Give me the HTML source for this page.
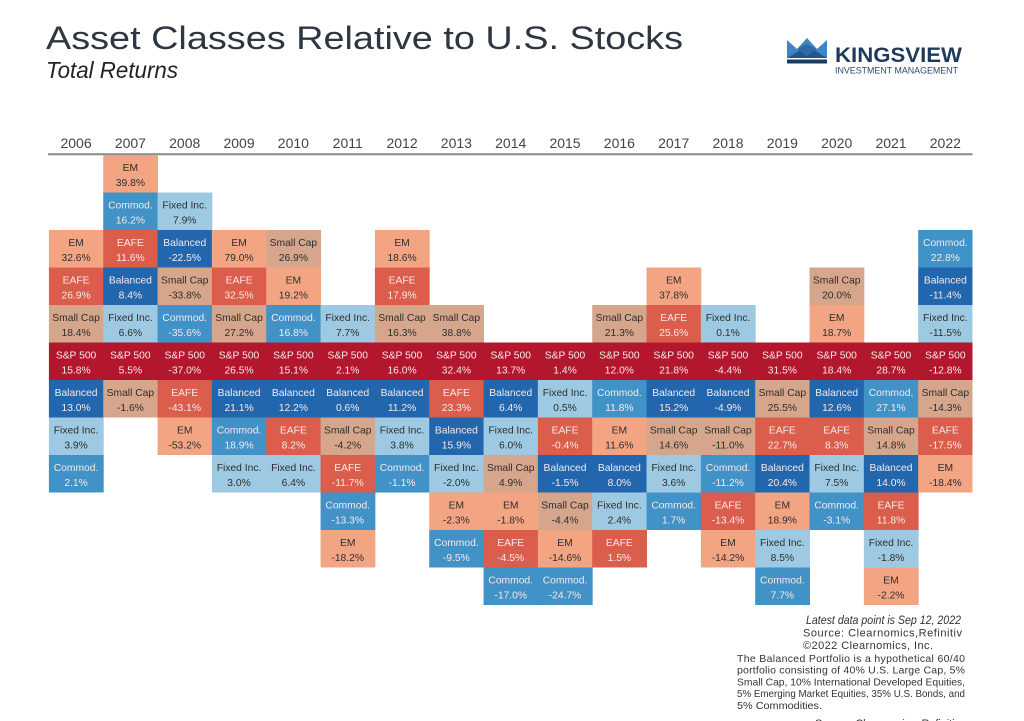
<!DOCTYPE html>
<html>
<head>
<meta charset="utf-8">
<style>
html,body{margin:0;padding:0;background:#fff;}
svg{display:block;}
.sp{fill:#b3172d}.eafe{fill:#da5e4b}.em{fill:#f3a583}.sc{fill:#d5a68b}.fi{fill:#9dcae2}.com{fill:#4192c6}.bal{fill:#2267ad}
text{font-family:"Liberation Sans",sans-serif;}
.c text{font-size:10.3px;text-anchor:middle;}
.d{fill:#2e2e2e}.l{fill:#f6e9ea}
.yr{font-size:14px;fill:#444;text-anchor:middle;}
</style>
</head>
<body>
<svg width="1024" height="721" viewBox="0 0 1024 721" xmlns="http://www.w3.org/2000/svg">
<rect width="1024" height="721" fill="#fff"/>
<!-- Title -->
<text x="46" y="49" font-size="32" fill="#2e3642" textLength="637" lengthAdjust="spacingAndGlyphs">Asset Classes Relative to U.S. Stocks</text>
<text x="46" y="78" font-size="23" font-style="italic" fill="#222" textLength="132" lengthAdjust="spacingAndGlyphs">Total Returns</text>
<!-- Logo -->
<g>
<polygon points="787,40 797,49 807,38 817,49 827,40 827,58 787,58" fill="#3d85c4"/>
<polygon points="787,58 807,46 827,58" fill="#24568c"/>
<polygon points="797,49 807,56 817,49 807,44" fill="#2f6aa6"/>
<rect x="787" y="59.5" width="40" height="4" fill="#1d3b5e"/>
<text x="835" y="62" font-size="21" font-weight="bold" fill="#1f3a5c" textLength="127" lengthAdjust="spacingAndGlyphs">KINGSVIEW</text>
<text x="835" y="73.5" font-size="9.3" fill="#2a4a70" textLength="123" lengthAdjust="spacingAndGlyphs">INVESTMENT MANAGEMENT</text>
</g>
<!-- Years -->
<g class="yr">
<text class="yr" x="76.07" y="148">2006</text>
<text class="yr" x="130.4" y="148">2007</text>
<text class="yr" x="184.73" y="148">2008</text>
<text class="yr" x="239.06" y="148">2009</text>
<text class="yr" x="293.39" y="148">2010</text>
<text class="yr" x="347.72" y="148">2011</text>
<text class="yr" x="402.05" y="148">2012</text>
<text class="yr" x="456.38" y="148">2013</text>
<text class="yr" x="510.71" y="148">2014</text>
<text class="yr" x="565.04" y="148">2015</text>
<text class="yr" x="619.37" y="148">2016</text>
<text class="yr" x="673.7" y="148">2017</text>
<text class="yr" x="728.03" y="148">2018</text>
<text class="yr" x="782.36" y="148">2019</text>
<text class="yr" x="836.69" y="148">2020</text>
<text class="yr" x="891.02" y="148">2021</text>
<text class="yr" x="945.35" y="148">2022</text>
</g>
<line x1="48" y1="154.3" x2="972.5" y2="154.3" stroke="#8a8a8a" stroke-width="2"/>

<g class="c">
<!-- 2006 -->
<g transform="translate(48.9,0)">
<g transform="translate(0,230)"><rect class="em" width="54.8" height="38"/><text x="27.17" y="16" class="d">EM</text><text x="27.17" y="31" class="d">32.6%</text></g>
<g transform="translate(0,267.5)"><rect class="eafe" width="54.8" height="38"/><text x="27.17" y="16" class="l">EAFE</text><text x="27.17" y="31" class="l">26.9%</text></g>
<g transform="translate(0,305)"><rect class="sc" width="54.8" height="38"/><text x="27.17" y="16" class="d">Small Cap</text><text x="27.17" y="31" class="d">18.4%</text></g>
<g transform="translate(0,342.5)"><rect class="sp" width="54.8" height="38"/><text x="27.17" y="16" class="l">S&amp;P 500</text><text x="27.17" y="31" class="l">15.8%</text></g>
<g transform="translate(0,380)"><rect class="bal" width="54.8" height="38"/><text x="27.17" y="16" class="l">Balanced</text><text x="27.17" y="31" class="l">13.0%</text></g>
<g transform="translate(0,417.5)"><rect class="fi" width="54.8" height="38"/><text x="27.17" y="16" class="d">Fixed Inc.</text><text x="27.17" y="31" class="d">3.9%</text></g>
<g transform="translate(0,455)"><rect class="com" width="54.8" height="37.5"/><text x="27.17" y="16" class="l">Commod.</text><text x="27.17" y="31" class="l">2.1%</text></g>
</g>
<!-- 2007 -->
<g transform="translate(103.23,0)">
<g transform="translate(0,155)"><rect class="em" width="54.8" height="38"/><text x="27.17" y="16" class="d">EM</text><text x="27.17" y="31" class="d">39.8%</text></g>
<g transform="translate(0,192.5)"><rect class="com" width="54.8" height="38"/><text x="27.17" y="16" class="l">Commod.</text><text x="27.17" y="31" class="l">16.2%</text></g>
<g transform="translate(0,230)"><rect class="eafe" width="54.8" height="38"/><text x="27.17" y="16" class="l">EAFE</text><text x="27.17" y="31" class="l">11.6%</text></g>
<g transform="translate(0,267.5)"><rect class="bal" width="54.8" height="38"/><text x="27.17" y="16" class="l">Balanced</text><text x="27.17" y="31" class="l">8.4%</text></g>
<g transform="translate(0,305)"><rect class="fi" width="54.8" height="38"/><text x="27.17" y="16" class="d">Fixed Inc.</text><text x="27.17" y="31" class="d">6.6%</text></g>
<g transform="translate(0,342.5)"><rect class="sp" width="54.8" height="38"/><text x="27.17" y="16" class="l">S&amp;P 500</text><text x="27.17" y="31" class="l">5.5%</text></g>
<g transform="translate(0,380)"><rect class="sc" width="54.8" height="37.5"/><text x="27.17" y="16" class="d">Small Cap</text><text x="27.17" y="31" class="d">-1.6%</text></g>
</g>
<!-- 2008 -->
<g transform="translate(157.56,0)">
<g transform="translate(0,192.5)"><rect class="fi" width="54.8" height="38"/><text x="27.17" y="16" class="d">Fixed Inc.</text><text x="27.17" y="31" class="d">7.9%</text></g>
<g transform="translate(0,230)"><rect class="bal" width="54.8" height="38"/><text x="27.17" y="16" class="l">Balanced</text><text x="27.17" y="31" class="l">-22.5%</text></g>
<g transform="translate(0,267.5)"><rect class="sc" width="54.8" height="38"/><text x="27.17" y="16" class="d">Small Cap</text><text x="27.17" y="31" class="d">-33.8%</text></g>
<g transform="translate(0,305)"><rect class="com" width="54.8" height="38"/><text x="27.17" y="16" class="l">Commod.</text><text x="27.17" y="31" class="l">-35.6%</text></g>
<g transform="translate(0,342.5)"><rect class="sp" width="54.8" height="38"/><text x="27.17" y="16" class="l">S&amp;P 500</text><text x="27.17" y="31" class="l">-37.0%</text></g>
<g transform="translate(0,380)"><rect class="eafe" width="54.8" height="38"/><text x="27.17" y="16" class="l">EAFE</text><text x="27.17" y="31" class="l">-43.1%</text></g>
<g transform="translate(0,417.5)"><rect class="em" width="54.8" height="37.5"/><text x="27.17" y="16" class="d">EM</text><text x="27.17" y="31" class="d">-53.2%</text></g>
</g>
<!-- 2009 -->
<g transform="translate(211.89,0)">
<g transform="translate(0,230)"><rect class="em" width="54.8" height="38"/><text x="27.17" y="16" class="d">EM</text><text x="27.17" y="31" class="d">79.0%</text></g>
<g transform="translate(0,267.5)"><rect class="eafe" width="54.8" height="38"/><text x="27.17" y="16" class="l">EAFE</text><text x="27.17" y="31" class="l">32.5%</text></g>
<g transform="translate(0,305)"><rect class="sc" width="54.8" height="38"/><text x="27.17" y="16" class="d">Small Cap</text><text x="27.17" y="31" class="d">27.2%</text></g>
<g transform="translate(0,342.5)"><rect class="sp" width="54.8" height="38"/><text x="27.17" y="16" class="l">S&amp;P 500</text><text x="27.17" y="31" class="l">26.5%</text></g>
<g transform="translate(0,380)"><rect class="bal" width="54.8" height="38"/><text x="27.17" y="16" class="l">Balanced</text><text x="27.17" y="31" class="l">21.1%</text></g>
<g transform="translate(0,417.5)"><rect class="com" width="54.8" height="38"/><text x="27.17" y="16" class="l">Commod.</text><text x="27.17" y="31" class="l">18.9%</text></g>
<g transform="translate(0,455)"><rect class="fi" width="54.8" height="37.5"/><text x="27.17" y="16" class="d">Fixed Inc.</text><text x="27.17" y="31" class="d">3.0%</text></g>
</g>
<!-- 2010 -->
<g transform="translate(266.22,0)">
<g transform="translate(0,230)"><rect class="sc" width="54.8" height="38"/><text x="27.17" y="16" class="d">Small Cap</text><text x="27.17" y="31" class="d">26.9%</text></g>
<g transform="translate(0,267.5)"><rect class="em" width="54.8" height="38"/><text x="27.17" y="16" class="d">EM</text><text x="27.17" y="31" class="d">19.2%</text></g>
<g transform="translate(0,305)"><rect class="com" width="54.8" height="38"/><text x="27.17" y="16" class="l">Commod.</text><text x="27.17" y="31" class="l">16.8%</text></g>
<g transform="translate(0,342.5)"><rect class="sp" width="54.8" height="38"/><text x="27.17" y="16" class="l">S&amp;P 500</text><text x="27.17" y="31" class="l">15.1%</text></g>
<g transform="translate(0,380)"><rect class="bal" width="54.8" height="38"/><text x="27.17" y="16" class="l">Balanced</text><text x="27.17" y="31" class="l">12.2%</text></g>
<g transform="translate(0,417.5)"><rect class="eafe" width="54.8" height="38"/><text x="27.17" y="16" class="l">EAFE</text><text x="27.17" y="31" class="l">8.2%</text></g>
<g transform="translate(0,455)"><rect class="fi" width="54.8" height="37.5"/><text x="27.17" y="16" class="d">Fixed Inc.</text><text x="27.17" y="31" class="d">6.4%</text></g>
</g>
<!-- 2011 -->
<g transform="translate(320.55,0)">
<g transform="translate(0,305)"><rect class="fi" width="54.8" height="38"/><text x="27.17" y="16" class="d">Fixed Inc.</text><text x="27.17" y="31" class="d">7.7%</text></g>
<g transform="translate(0,342.5)"><rect class="sp" width="54.8" height="38"/><text x="27.17" y="16" class="l">S&amp;P 500</text><text x="27.17" y="31" class="l">2.1%</text></g>
<g transform="translate(0,380)"><rect class="bal" width="54.8" height="38"/><text x="27.17" y="16" class="l">Balanced</text><text x="27.17" y="31" class="l">0.6%</text></g>
<g transform="translate(0,417.5)"><rect class="sc" width="54.8" height="38"/><text x="27.17" y="16" class="d">Small Cap</text><text x="27.17" y="31" class="d">-4.2%</text></g>
<g transform="translate(0,455)"><rect class="eafe" width="54.8" height="38"/><text x="27.17" y="16" class="l">EAFE</text><text x="27.17" y="31" class="l">-11.7%</text></g>
<g transform="translate(0,492.5)"><rect class="com" width="54.8" height="38"/><text x="27.17" y="16" class="l">Commod.</text><text x="27.17" y="31" class="l">-13.3%</text></g>
<g transform="translate(0,530)"><rect class="em" width="54.8" height="37.5"/><text x="27.17" y="16" class="d">EM</text><text x="27.17" y="31" class="d">-18.2%</text></g>
</g>
<!-- 2012 -->
<g transform="translate(374.88,0)">
<g transform="translate(0,230)"><rect class="em" width="54.8" height="38"/><text x="27.17" y="16" class="d">EM</text><text x="27.17" y="31" class="d">18.6%</text></g>
<g transform="translate(0,267.5)"><rect class="eafe" width="54.8" height="38"/><text x="27.17" y="16" class="l">EAFE</text><text x="27.17" y="31" class="l">17.9%</text></g>
<g transform="translate(0,305)"><rect class="sc" width="54.8" height="38"/><text x="27.17" y="16" class="d">Small Cap</text><text x="27.17" y="31" class="d">16.3%</text></g>
<g transform="translate(0,342.5)"><rect class="sp" width="54.8" height="38"/><text x="27.17" y="16" class="l">S&amp;P 500</text><text x="27.17" y="31" class="l">16.0%</text></g>
<g transform="translate(0,380)"><rect class="bal" width="54.8" height="38"/><text x="27.17" y="16" class="l">Balanced</text><text x="27.17" y="31" class="l">11.2%</text></g>
<g transform="translate(0,417.5)"><rect class="fi" width="54.8" height="38"/><text x="27.17" y="16" class="d">Fixed Inc.</text><text x="27.17" y="31" class="d">3.8%</text></g>
<g transform="translate(0,455)"><rect class="com" width="54.8" height="37.5"/><text x="27.17" y="16" class="l">Commod.</text><text x="27.17" y="31" class="l">-1.1%</text></g>
</g>
<!-- 2013 -->
<g transform="translate(429.21,0)">
<g transform="translate(0,305)"><rect class="sc" width="54.8" height="38"/><text x="27.17" y="16" class="d">Small Cap</text><text x="27.17" y="31" class="d">38.8%</text></g>
<g transform="translate(0,342.5)"><rect class="sp" width="54.8" height="38"/><text x="27.17" y="16" class="l">S&amp;P 500</text><text x="27.17" y="31" class="l">32.4%</text></g>
<g transform="translate(0,380)"><rect class="eafe" width="54.8" height="38"/><text x="27.17" y="16" class="l">EAFE</text><text x="27.17" y="31" class="l">23.3%</text></g>
<g transform="translate(0,417.5)"><rect class="bal" width="54.8" height="38"/><text x="27.17" y="16" class="l">Balanced</text><text x="27.17" y="31" class="l">15.9%</text></g>
<g transform="translate(0,455)"><rect class="fi" width="54.8" height="38"/><text x="27.17" y="16" class="d">Fixed Inc.</text><text x="27.17" y="31" class="d">-2.0%</text></g>
<g transform="translate(0,492.5)"><rect class="em" width="54.8" height="38"/><text x="27.17" y="16" class="d">EM</text><text x="27.17" y="31" class="d">-2.3%</text></g>
<g transform="translate(0,530)"><rect class="com" width="54.8" height="37.5"/><text x="27.17" y="16" class="l">Commod.</text><text x="27.17" y="31" class="l">-9.5%</text></g>
</g>
<!-- 2014 -->
<g transform="translate(483.54,0)">
<g transform="translate(0,342.5)"><rect class="sp" width="54.8" height="38"/><text x="27.17" y="16" class="l">S&amp;P 500</text><text x="27.17" y="31" class="l">13.7%</text></g>
<g transform="translate(0,380)"><rect class="bal" width="54.8" height="38"/><text x="27.17" y="16" class="l">Balanced</text><text x="27.17" y="31" class="l">6.4%</text></g>
<g transform="translate(0,417.5)"><rect class="fi" width="54.8" height="38"/><text x="27.17" y="16" class="d">Fixed Inc.</text><text x="27.17" y="31" class="d">6.0%</text></g>
<g transform="translate(0,455)"><rect class="sc" width="54.8" height="38"/><text x="27.17" y="16" class="d">Small Cap</text><text x="27.17" y="31" class="d">4.9%</text></g>
<g transform="translate(0,492.5)"><rect class="em" width="54.8" height="38"/><text x="27.17" y="16" class="d">EM</text><text x="27.17" y="31" class="d">-1.8%</text></g>
<g transform="translate(0,530)"><rect class="eafe" width="54.8" height="38"/><text x="27.17" y="16" class="l">EAFE</text><text x="27.17" y="31" class="l">-4.5%</text></g>
<g transform="translate(0,567.5)"><rect class="com" width="54.8" height="37.5"/><text x="27.17" y="16" class="l">Commod.</text><text x="27.17" y="31" class="l">-17.0%</text></g>
</g>
<!-- 2015 -->
<g transform="translate(537.87,0)">
<g transform="translate(0,342.5)"><rect class="sp" width="54.8" height="38"/><text x="27.17" y="16" class="l">S&amp;P 500</text><text x="27.17" y="31" class="l">1.4%</text></g>
<g transform="translate(0,380)"><rect class="fi" width="54.8" height="38"/><text x="27.17" y="16" class="d">Fixed Inc.</text><text x="27.17" y="31" class="d">0.5%</text></g>
<g transform="translate(0,417.5)"><rect class="eafe" width="54.8" height="38"/><text x="27.17" y="16" class="l">EAFE</text><text x="27.17" y="31" class="l">-0.4%</text></g>
<g transform="translate(0,455)"><rect class="bal" width="54.8" height="38"/><text x="27.17" y="16" class="l">Balanced</text><text x="27.17" y="31" class="l">-1.5%</text></g>
<g transform="translate(0,492.5)"><rect class="sc" width="54.8" height="38"/><text x="27.17" y="16" class="d">Small Cap</text><text x="27.17" y="31" class="d">-4.4%</text></g>
<g transform="translate(0,530)"><rect class="em" width="54.8" height="38"/><text x="27.17" y="16" class="d">EM</text><text x="27.17" y="31" class="d">-14.6%</text></g>
<g transform="translate(0,567.5)"><rect class="com" width="54.8" height="37.5"/><text x="27.17" y="16" class="l">Commod.</text><text x="27.17" y="31" class="l">-24.7%</text></g>
</g>
<!-- 2016 -->
<g transform="translate(592.2,0)">
<g transform="translate(0,305)"><rect class="sc" width="54.8" height="38"/><text x="27.17" y="16" class="d">Small Cap</text><text x="27.17" y="31" class="d">21.3%</text></g>
<g transform="translate(0,342.5)"><rect class="sp" width="54.8" height="38"/><text x="27.17" y="16" class="l">S&amp;P 500</text><text x="27.17" y="31" class="l">12.0%</text></g>
<g transform="translate(0,380)"><rect class="com" width="54.8" height="38"/><text x="27.17" y="16" class="l">Commod.</text><text x="27.17" y="31" class="l">11.8%</text></g>
<g transform="translate(0,417.5)"><rect class="em" width="54.8" height="38"/><text x="27.17" y="16" class="d">EM</text><text x="27.17" y="31" class="d">11.6%</text></g>
<g transform="translate(0,455)"><rect class="bal" width="54.8" height="38"/><text x="27.17" y="16" class="l">Balanced</text><text x="27.17" y="31" class="l">8.0%</text></g>
<g transform="translate(0,492.5)"><rect class="fi" width="54.8" height="38"/><text x="27.17" y="16" class="d">Fixed Inc.</text><text x="27.17" y="31" class="d">2.4%</text></g>
<g transform="translate(0,530)"><rect class="eafe" width="54.8" height="37.5"/><text x="27.17" y="16" class="l">EAFE</text><text x="27.17" y="31" class="l">1.5%</text></g>
</g>
<!-- 2017 -->
<g transform="translate(646.53,0)">
<g transform="translate(0,267.5)"><rect class="em" width="54.8" height="38"/><text x="27.17" y="16" class="d">EM</text><text x="27.17" y="31" class="d">37.8%</text></g>
<g transform="translate(0,305)"><rect class="eafe" width="54.8" height="38"/><text x="27.17" y="16" class="l">EAFE</text><text x="27.17" y="31" class="l">25.6%</text></g>
<g transform="translate(0,342.5)"><rect class="sp" width="54.8" height="38"/><text x="27.17" y="16" class="l">S&amp;P 500</text><text x="27.17" y="31" class="l">21.8%</text></g>
<g transform="translate(0,380)"><rect class="bal" width="54.8" height="38"/><text x="27.17" y="16" class="l">Balanced</text><text x="27.17" y="31" class="l">15.2%</text></g>
<g transform="translate(0,417.5)"><rect class="sc" width="54.8" height="38"/><text x="27.17" y="16" class="d">Small Cap</text><text x="27.17" y="31" class="d">14.6%</text></g>
<g transform="translate(0,455)"><rect class="fi" width="54.8" height="38"/><text x="27.17" y="16" class="d">Fixed Inc.</text><text x="27.17" y="31" class="d">3.6%</text></g>
<g transform="translate(0,492.5)"><rect class="com" width="54.8" height="37.5"/><text x="27.17" y="16" class="l">Commod.</text><text x="27.17" y="31" class="l">1.7%</text></g>
</g>
<!-- 2018 -->
<g transform="translate(700.86,0)">
<g transform="translate(0,305)"><rect class="fi" width="54.8" height="38"/><text x="27.17" y="16" class="d">Fixed Inc.</text><text x="27.17" y="31" class="d">0.1%</text></g>
<g transform="translate(0,342.5)"><rect class="sp" width="54.8" height="38"/><text x="27.17" y="16" class="l">S&amp;P 500</text><text x="27.17" y="31" class="l">-4.4%</text></g>
<g transform="translate(0,380)"><rect class="bal" width="54.8" height="38"/><text x="27.17" y="16" class="l">Balanced</text><text x="27.17" y="31" class="l">-4.9%</text></g>
<g transform="translate(0,417.5)"><rect class="sc" width="54.8" height="38"/><text x="27.17" y="16" class="d">Small Cap</text><text x="27.17" y="31" class="d">-11.0%</text></g>
<g transform="translate(0,455)"><rect class="com" width="54.8" height="38"/><text x="27.17" y="16" class="l">Commod.</text><text x="27.17" y="31" class="l">-11.2%</text></g>
<g transform="translate(0,492.5)"><rect class="eafe" width="54.8" height="38"/><text x="27.17" y="16" class="l">EAFE</text><text x="27.17" y="31" class="l">-13.4%</text></g>
<g transform="translate(0,530)"><rect class="em" width="54.8" height="37.5"/><text x="27.17" y="16" class="d">EM</text><text x="27.17" y="31" class="d">-14.2%</text></g>
</g>
<!-- 2019 -->
<g transform="translate(755.19,0)">
<g transform="translate(0,342.5)"><rect class="sp" width="54.8" height="38"/><text x="27.17" y="16" class="l">S&amp;P 500</text><text x="27.17" y="31" class="l">31.5%</text></g>
<g transform="translate(0,380)"><rect class="sc" width="54.8" height="38"/><text x="27.17" y="16" class="d">Small Cap</text><text x="27.17" y="31" class="d">25.5%</text></g>
<g transform="translate(0,417.5)"><rect class="eafe" width="54.8" height="38"/><text x="27.17" y="16" class="l">EAFE</text><text x="27.17" y="31" class="l">22.7%</text></g>
<g transform="translate(0,455)"><rect class="bal" width="54.8" height="38"/><text x="27.17" y="16" class="l">Balanced</text><text x="27.17" y="31" class="l">20.4%</text></g>
<g transform="translate(0,492.5)"><rect class="em" width="54.8" height="38"/><text x="27.17" y="16" class="d">EM</text><text x="27.17" y="31" class="d">18.9%</text></g>
<g transform="translate(0,530)"><rect class="fi" width="54.8" height="38"/><text x="27.17" y="16" class="d">Fixed Inc.</text><text x="27.17" y="31" class="d">8.5%</text></g>
<g transform="translate(0,567.5)"><rect class="com" width="54.8" height="37.5"/><text x="27.17" y="16" class="l">Commod.</text><text x="27.17" y="31" class="l">7.7%</text></g>
</g>
<!-- 2020 -->
<g transform="translate(809.52,0)">
<g transform="translate(0,267.5)"><rect class="sc" width="54.8" height="38"/><text x="27.17" y="16" class="d">Small Cap</text><text x="27.17" y="31" class="d">20.0%</text></g>
<g transform="translate(0,305)"><rect class="em" width="54.8" height="38"/><text x="27.17" y="16" class="d">EM</text><text x="27.17" y="31" class="d">18.7%</text></g>
<g transform="translate(0,342.5)"><rect class="sp" width="54.8" height="38"/><text x="27.17" y="16" class="l">S&amp;P 500</text><text x="27.17" y="31" class="l">18.4%</text></g>
<g transform="translate(0,380)"><rect class="bal" width="54.8" height="38"/><text x="27.17" y="16" class="l">Balanced</text><text x="27.17" y="31" class="l">12.6%</text></g>
<g transform="translate(0,417.5)"><rect class="eafe" width="54.8" height="38"/><text x="27.17" y="16" class="l">EAFE</text><text x="27.17" y="31" class="l">8.3%</text></g>
<g transform="translate(0,455)"><rect class="fi" width="54.8" height="38"/><text x="27.17" y="16" class="d">Fixed Inc.</text><text x="27.17" y="31" class="d">7.5%</text></g>
<g transform="translate(0,492.5)"><rect class="com" width="54.8" height="37.5"/><text x="27.17" y="16" class="l">Commod.</text><text x="27.17" y="31" class="l">-3.1%</text></g>
</g>
<!-- 2021 -->
<g transform="translate(863.85,0)">
<g transform="translate(0,342.5)"><rect class="sp" width="54.8" height="38"/><text x="27.17" y="16" class="l">S&amp;P 500</text><text x="27.17" y="31" class="l">28.7%</text></g>
<g transform="translate(0,380)"><rect class="com" width="54.8" height="38"/><text x="27.17" y="16" class="l">Commod.</text><text x="27.17" y="31" class="l">27.1%</text></g>
<g transform="translate(0,417.5)"><rect class="sc" width="54.8" height="38"/><text x="27.17" y="16" class="d">Small Cap</text><text x="27.17" y="31" class="d">14.8%</text></g>
<g transform="translate(0,455)"><rect class="bal" width="54.8" height="38"/><text x="27.17" y="16" class="l">Balanced</text><text x="27.17" y="31" class="l">14.0%</text></g>
<g transform="translate(0,492.5)"><rect class="eafe" width="54.8" height="38"/><text x="27.17" y="16" class="l">EAFE</text><text x="27.17" y="31" class="l">11.8%</text></g>
<g transform="translate(0,530)"><rect class="fi" width="54.8" height="38"/><text x="27.17" y="16" class="d">Fixed Inc.</text><text x="27.17" y="31" class="d">-1.8%</text></g>
<g transform="translate(0,567.5)"><rect class="em" width="54.8" height="37.5"/><text x="27.17" y="16" class="d">EM</text><text x="27.17" y="31" class="d">-2.2%</text></g>
</g>
<!-- 2022 -->
<g transform="translate(918.18,0)">
<g transform="translate(0,230)"><rect class="com" width="54.3" height="38"/><text x="27.17" y="16" class="l">Commod.</text><text x="27.17" y="31" class="l">22.8%</text></g>
<g transform="translate(0,267.5)"><rect class="bal" width="54.3" height="38"/><text x="27.17" y="16" class="l">Balanced</text><text x="27.17" y="31" class="l">-11.4%</text></g>
<g transform="translate(0,305)"><rect class="fi" width="54.3" height="38"/><text x="27.17" y="16" class="d">Fixed Inc.</text><text x="27.17" y="31" class="d">-11.5%</text></g>
<g transform="translate(0,342.5)"><rect class="sp" width="54.3" height="38"/><text x="27.17" y="16" class="l">S&amp;P 500</text><text x="27.17" y="31" class="l">-12.8%</text></g>
<g transform="translate(0,380)"><rect class="sc" width="54.3" height="38"/><text x="27.17" y="16" class="d">Small Cap</text><text x="27.17" y="31" class="d">-14.3%</text></g>
<g transform="translate(0,417.5)"><rect class="eafe" width="54.3" height="38"/><text x="27.17" y="16" class="l">EAFE</text><text x="27.17" y="31" class="l">-17.5%</text></g>
<g transform="translate(0,455)"><rect class="em" width="54.3" height="37.5"/><text x="27.17" y="16" class="d">EM</text><text x="27.17" y="31" class="d">-18.4%</text></g>
</g>
</g>

<!-- Footer -->
<g fill="#333">
<text x="806" y="624" font-size="12" font-style="italic" textLength="155" lengthAdjust="spacingAndGlyphs">Latest data point is Sep 12, 2022</text>
<text x="803" y="636.5" font-size="11" textLength="159" lengthAdjust="spacing">Source: Clearnomics,Refinitiv</text>
<text x="803" y="649" font-size="11" textLength="130" lengthAdjust="spacing">©2022 Clearnomics, Inc.</text>
<text x="737" y="662" font-size="10.5" textLength="228" lengthAdjust="spacing">The Balanced Portfolio is a hypothetical 60/40</text>
<text x="737" y="673.7" font-size="10.5" textLength="228" lengthAdjust="spacing">portfolio consisting of 40% U.S. Large Cap, 5%</text>
<text x="737" y="685.4" font-size="10.5" textLength="228" lengthAdjust="spacingAndGlyphs">Small Cap, 10% International Developed Equities,</text>
<text x="737" y="697.1" font-size="10.5" textLength="228" lengthAdjust="spacingAndGlyphs">5% Emerging Market Equities, 35% U.S. Bonds, and</text>
<text x="737" y="708.8" font-size="10.5" textLength="85" lengthAdjust="spacingAndGlyphs">5% Commodities.</text>
<text x="815" y="727" font-size="11" textLength="145" lengthAdjust="spacing">Source: Clearnomics, Refinitiv</text>
</g>
</svg>
</body>
</html>
